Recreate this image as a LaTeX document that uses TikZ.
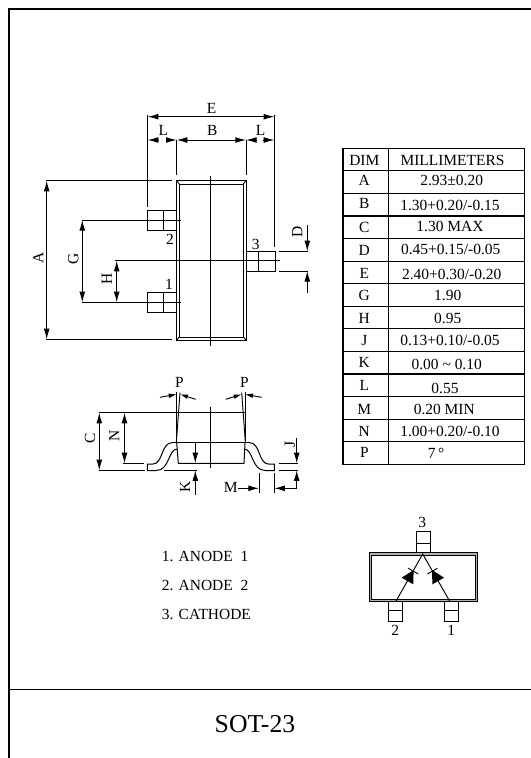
\documentclass[tikz,border=0pt]{standalone}
\usepackage{fontspec}
\setmainfont{Liberation Serif}
\usepackage{tikz}
\usetikzlibrary{arrows.meta}
\tikzset{
    lbl/.style={inner sep=0pt,font=\fontsize{11.6}{13}\selectfont},
    lblrot/.style={lbl,rotate=90},
    part/.style={line width=0.75pt},
    dim/.style={line width=0.7pt},
    dimend/.style={dim,-{Latex[length=8pt,width=4.4pt]}},
    dimboth/.style={dim,{Latex[length=8pt,width=4.4pt]}-{Latex[length=8pt,width=4.4pt]}},
    dimangle/.style={dim,-{Latex[length=6pt,width=3.5pt]}}
}

\begin{document}
\begin{tikzpicture}[x=0.75pt,y=-0.75pt]
    \useasboundingbox (0,0) rectangle (531,758);

    % Draw page frame
    \draw[line width=1.5pt] (531,8.8) -- (8.5,8.8) -- (8.5,758);
    \draw[line width=0.9pt] (8.5,689.7) -- (531,689.7);
    \node[inner sep=0pt,font=\fontsize{19.3}{22}\selectfont] (title) at (255,724) {SOT-23};

    % Draw top view body
    \draw[part] (176.7,180.7) rectangle (246,340);
    \draw[part] (179.3,184) rectangle (243.3,337);
    \draw[dim] (176.7,180.7) -- (179.3,184) (246,180.7) -- (243.3,184);
    \draw[dim] (176.7,340) -- (179.3,337) (246,340) -- (243.3,337);
    \draw[dim] (210.7,176) -- (210.7,346);

    % Draw top view pins
    \foreach \ytop in {210.7,292.3} {
        \draw[part] (176.7,\ytop) -- (147.3,\ytop) -- (147.3,\ytop+19.7) -- (176.7,\ytop+19.7);
        \draw[part] (163.3,\ytop) -- (163.3,\ytop+19.7);
    }
    \draw[part] (246,251.3) -- (275,251.3) -- (275,271) -- (246,271);
    \draw[part] (258.7,251.3) -- (258.7,271);
    \node[lbl] (pintwo) at (170,239) {2};
    \node[lbl] (pinone) at (169,284.3) {1};
    \node[lbl] (pinthree) at (255.7,244) {3};

    % Draw extension lines
    \draw[dim] (147.7,115) -- (147.7,206.7);
    \draw[dim] (274.3,115) -- (274.3,246.7);
    \draw[dim] (176.7,140) -- (176.7,175);
    \draw[dim] (246,140) -- (246,175);
    \draw[dim] (46,180.7) -- (171.7,180.7);
    \draw[dim] (46,339.3) -- (171.7,339.3);
    \draw[dim] (81.7,220) -- (181.3,220);
    \draw[dim] (81.7,302.3) -- (181.3,302.3);
    \draw[dim] (115,260.7) -- (280,260.7);
    \draw[dim] (279.3,251.3) -- (308.3,251.3);
    \draw[dim] (279.3,271) -- (308.3,271);

    % Draw E, L, B dimensions
    \draw[dimboth] (147.7,116.7) -- (274.3,116.7);
    \draw[dimend] (159.3,140) -- (147.7,140);
    \draw[dimend] (165.7,140) -- (176.7,140);
    \draw[dimboth] (176.7,140) -- (246,140);
    \draw[dimend] (256.7,140) -- (246,140);
    \draw[dimend] (263.3,140) -- (274.3,140);
    \node[lbl] (dime) at (211.7,108.3) {E};
    \node[lbl] (diml) at (163.3,130) {L};
    \node[lbl] (dimb) at (212.3,130) {B};
    \node[lbl] (dimlr) at (260.7,130) {L};

    % Draw A, G, H, D dimensions
    \draw[dimboth] (46.7,180.7) -- (46.7,339.3);
    \draw[dimboth] (82.3,220) -- (82.3,302.3);
    \draw[dimboth] (116.7,260.7) -- (116.7,302.3);
    \draw[dimend] (307.3,225) -- (307.3,251.3);
    \draw[dimend] (307.3,292.7) -- (307.3,271);
    \node[lblrot] (dima) at (38.3,258.3) {A};
    \node[lblrot] (dimg) at (73.3,259) {G};
    \node[lblrot] (dimh) at (106.7,279) {H};
    \node[lblrot] (dimd) at (297.3,231.7) {D};

    % Draw side view body
    \draw[part] (171.7,442.7) -- (249.7,442.7);
    \draw[part] (176.7,442.7) -- (178.3,463.3) -- (244,463.3) -- (245,442.7);
    \draw[dim] (210.7,406.7) -- (210.7,468.3);

    % Draw side view leads
    \draw[part] (177.3,449) .. controls (168,449) and (170,470.5) .. (156,470.5)
        -- (147.3,470.5) -- (147.3,464) -- (153,464)
        .. controls (163,464) and (161,442.7) .. (172,442.7);
    \draw[part] (244.1,449) .. controls (253.4,449) and (251.4,470.5) .. (265.4,470.5)
        -- (274.4,470.5) -- (274.4,464) -- (268.4,464)
        .. controls (258.4,464) and (260.4,442.7) .. (249.7,442.7);

    % Draw P angles
    \draw[dim] (176.7,391.7) -- (176.7,442.7);
    \draw[dim] (180,392.7) -- (176.3,442.7);
    \draw[dim] (245,391.7) -- (245,442.7);
    \draw[dim] (241.7,392.7) -- (245.4,442.7);
    \draw[dimangle] (160,397.3) -- (176.7,394.3);
    \draw[dimangle] (195.7,399.3) -- (180,394.3);
    \draw[dimangle] (225.7,399.3) -- (241.7,394.3);
    \draw[dimangle] (261.7,397.3) -- (245,394.3);
    \node[lbl] (dimp) at (179.3,382.7) {P};
    \node[lbl] (dimpr) at (244.3,382.7) {P};

    % Draw C, N, K, J, M dimensions
    \draw[dim] (99.3,412.7) -- (245,412.7);
    \draw[dim] (123,463.3) -- (144.3,463.3);
    \draw[dim] (99.3,470.3) -- (145,470.3);
    \draw[dim] (164,470.3) -- (196.7,470.3);
    \draw[dim] (279,463.3) -- (298.3,463.3);
    \draw[dim] (279,470.3) -- (298.3,470.3);
    \draw[dim] (259,473.3) -- (259,493.3);
    \draw[dim] (274.3,473.3) -- (274.3,493.3);
    \draw[dimboth] (99.3,412.7) -- (99.3,470.3);
    \draw[dimboth] (124.5,412.7) -- (124.5,463.3);
    \draw[dimend] (195.3,442.7) -- (195.3,463.3);
    \draw[dimend] (195.3,495) -- (195.3,470.3);
    \draw[dimend] (238.3,488.3) -- (259,488.3);
    \draw[dimend] (296.7,488.3) -- (274.3,488.3);
    \draw[dimend] (296.7,438.3) -- (296.7,463.3);
    \draw[dimend] (296.7,488.3) -- (296.7,470.3);
    \node[lblrot] (dimc) at (90,438.3) {C};
    \node[lblrot] (dimn) at (114.3,435.7) {N};
    \node[lblrot] (dimk) at (185,487.3) {K};
    \node[lbl] (dimm) at (230.7,487.3) {M};
    \node[lblrot] (dimj) at (290,444) {J};

    % Draw table
    \draw[line width=1.2pt] (343,148.3) rectangle (524.3,464.3);
    \draw[line width=1pt] (388.3,148.3) -- (388.3,464.3);
    \foreach \i in {1,...,13} {
        \draw[line width=0.8pt] (343,148.3+22.57*\i) -- (524.3,148.3+22.57*\i);
    }
    \node[lbl] (dimhead) at (364.3,160) {DIM};
    \node[lbl] (mmhead) at (452.5,160) {MILLIMETERS};
    \foreach \name/\yname/\val/\xval/\yval in {
        A/180.7/{2.93±0.20}/451.7/180.7,
        B/203.3/{1.30+0.20/-0.15}/450/205,
        C/227.3/{1.30 MAX}/450/226.7,
        D/250/{0.45+0.15/-0.05}/450.7/249.3,
        E/273.3/{2.40+0.30/-0.20}/451.7/274,
        G/295.7/{1.90}/447.7/295.7,
        H/318.3/{0.95}/447.7/318.3,
        J/340.3/{0.13+0.10/-0.05}/450/340.3,
        K/362.3/{0.00 \textasciitilde\ 0.10}/446.7/364,
        L/385.7/{0.55}/445/388.3,
        M/409.3/{0.20 MIN}/444.3/409.3,
        N/431/{1.00+0.20/-0.10}/450/431,
        P/452.7/{7\,°}/436/453.3} {
        \node[lbl] (dim\name) at (364.3,\yname) {\name};
        \node[lbl] (val\name) at (\xval,\yval) {\val};
    }

    % Draw pin list
    \node[lbl,anchor=west] (listone) at (161.7,556) {1. ANODE\ \ 1};
    \node[lbl,anchor=west] (listtwo) at (161.7,585.7) {2. ANODE\ \ 2};
    \node[lbl,anchor=west] (listthree) at (161.7,614) {3. CATHODE};

    % Draw schematic
    \draw[part,fill=gray!60] (369,552.7) rectangle (477.7,601.7);
    \draw[part,fill=white] (371.7,555.3) rectangle (475,599.3);
    \draw[part] (416,552.7) -- (416,531.7) -- (430,531.7) -- (430,552.7);
    \draw[part] (416,543.3) -- (430,543.3);
    \foreach \xleft/\pinname in {388.3/2,444.3/1} {
        \draw[part] (\xleft,601.7) -- (\xleft,621.7) -- (\xleft+14,621.7) -- (\xleft+14,601.7);
        \draw[part] (\xleft,610.7) -- (\xleft+14,610.7);
        \node[lbl] (schem\pinname) at (\xleft+7,630.5) {\pinname};
    }
    \node[lbl] (schemthree) at (422.3,522.7) {3};
    \draw[dim] (395.7,601.7) -- (422.7,554) -- (450,601.7);
    \fill (401.7,577.7) -- (413.3,584.3) -- (413.6,570) -- cycle;
    \fill (444,577.7) -- (432.4,584.3) -- (432,570) -- cycle;
    \draw[dim] (408.3,568.3) -- (418.3,574);
    \draw[dim] (437.4,568.3) -- (427.4,574);
\end{tikzpicture}
\end{document}
